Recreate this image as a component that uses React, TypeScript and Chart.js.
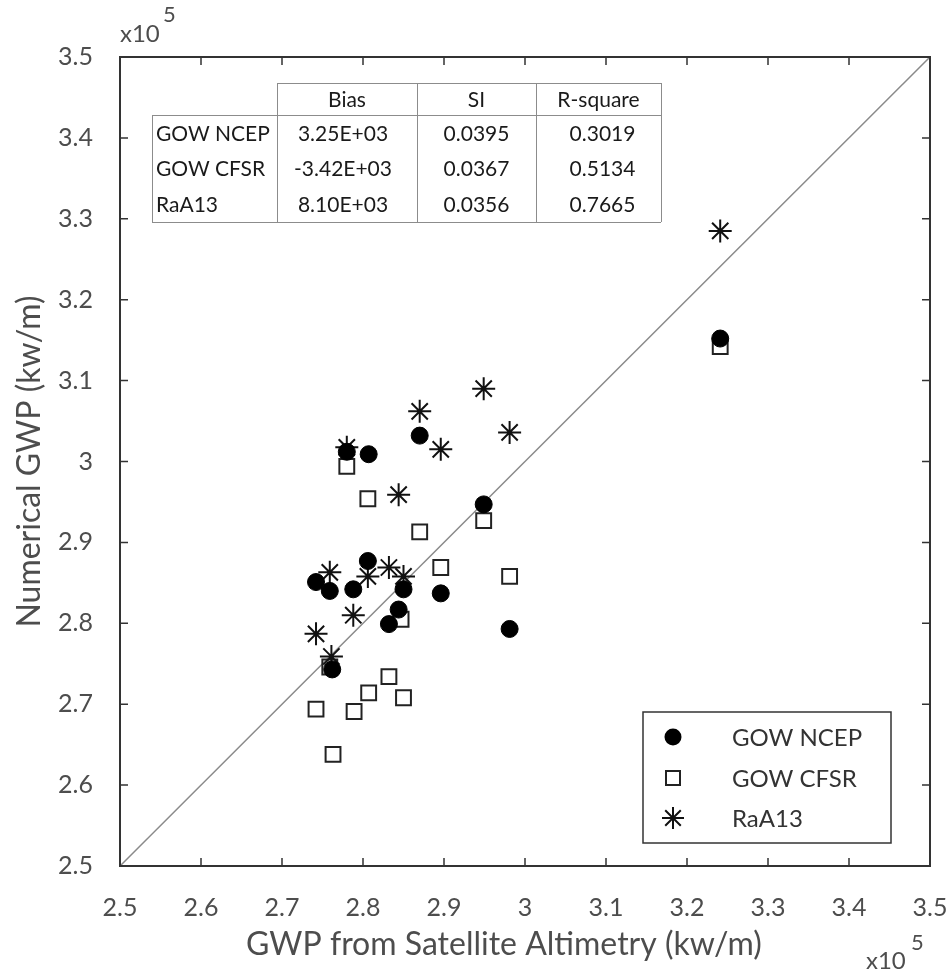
import React, { useEffect, useRef } from 'react';
import { Chart, registerables } from 'chart.js';

Chart.register(...registerables);

// GWP values in units of 10^5 kw/m
const ncepX = [2.742, 2.759, 2.762, 2.780, 2.788, 2.807, 2.806, 2.832, 2.844, 2.850, 2.870, 2.896, 2.949, 2.981, 3.241];
const ncepY = [2.851, 2.840, 2.743, 3.012, 2.842, 3.009, 2.877, 2.799, 2.817, 2.842, 3.032, 2.837, 2.947, 2.793, 3.152];
const cfsrX = [2.742, 2.759, 2.763, 2.780, 2.789, 2.806, 2.807, 2.832, 2.847, 2.850, 2.870, 2.896, 2.949, 2.981, 3.241];
const cfsrY = [2.694, 2.746, 2.638, 2.994, 2.691, 2.954, 2.714, 2.734, 2.805, 2.708, 2.913, 2.869, 2.927, 2.858, 3.142];
const raaX = [2.742, 2.759, 2.761, 2.780, 2.788, 2.806, 2.832, 2.844, 2.850, 2.870, 2.896, 2.949, 2.981, 3.241];
const raaY = [2.787, 2.863, 2.759, 3.0175, 2.810, 2.858, 2.869, 2.959, 2.858, 3.062, 3.015, 3.090, 3.036, 3.285];
const refLine = [2.5, 3.5];

const seriesNames = ['GOW NCEP', 'GOW CFSR', 'RaA13'];
const tableHeaders = ['Bias', 'SI', 'R-square'];
const biasVals = ['3.25E+03', '-3.42E+03', '8.10E+03'];
const siVals = ['0.0395', '0.0367', '0.0356'];
const r2Vals = ['0.3019', '0.5134', '0.7665'];
const xTitle = 'GWP from Satellite Altimetry (kw/m)';
const yTitle = 'Numerical GWP (kw/m)';

const FONT = 'Lato, "Open Sans", sans-serif';
const AXIS_COLOR = '#4d4d4d';

const toPts = (xs: number[], ys: number[]) => xs.map((x, i) => ({ x, y: ys[i] }));

function drawStar(ctx: CanvasRenderingContext2D, x: number, y: number, r: number) {
  ctx.beginPath();
  ctx.moveTo(x - r, y); ctx.lineTo(x + r, y);
  ctx.moveTo(x, y - r); ctx.lineTo(x, y + r);
  const d = r * Math.SQRT1_2;
  ctx.moveTo(x - d, y - d); ctx.lineTo(x + d, y + d);
  ctx.moveTo(x - d, y + d); ctx.lineTo(x + d, y - d);
  ctx.stroke();
}

const decorPlugin = {
  id: 'decor',
  afterDatasetsDraw(chart: any) {
    const { ctx, chartArea: a, scales } = chart;
    const xs = scales.x;
    const ys = scales.y;
    ctx.save();

    // inward tick marks on all four sides
    ctx.strokeStyle = '#333';
    ctx.lineWidth = 1.5;
    ctx.beginPath();
    xs.ticks.forEach((t: any) => {
      const px = xs.getPixelForValue(t.value);
      ctx.moveTo(px, a.bottom); ctx.lineTo(px, a.bottom - 8);
      ctx.moveTo(px, a.top); ctx.lineTo(px, a.top + 8);
    });
    ys.ticks.forEach((t: any) => {
      const py = ys.getPixelForValue(t.value);
      ctx.moveTo(a.left, py); ctx.lineTo(a.left + 8, py);
      ctx.moveTo(a.right, py); ctx.lineTo(a.right - 8, py);
    });
    ctx.stroke();

    // frame
    ctx.lineWidth = 2;
    ctx.strokeRect(a.left, a.top, a.right - a.left, a.bottom - a.top);

    // statistics table
    const cols = [152, 277, 417, 536, 661];
    const hTop = 83, hBot = 115, bBot = 222;
    const rowH = (bBot - hBot) / 3;
    ctx.fillStyle = '#fff';
    ctx.fillRect(cols[1], hTop, cols[4] - cols[1], hBot - hTop);
    ctx.fillRect(cols[0], hBot, cols[4] - cols[0], bBot - hBot);
    ctx.strokeStyle = '#8c8c8c';
    ctx.lineWidth = 1;
    ctx.beginPath();
    ctx.moveTo(cols[1], hTop + 0.5); ctx.lineTo(cols[4], hTop + 0.5);
    ctx.moveTo(cols[0], hBot + 0.5); ctx.lineTo(cols[4], hBot + 0.5);
    ctx.moveTo(cols[0], bBot + 0.5); ctx.lineTo(cols[4], bBot + 0.5);
    ctx.moveTo(cols[0] + 0.5, hBot); ctx.lineTo(cols[0] + 0.5, bBot);
    for (let i = 1; i < cols.length; i++) {
      ctx.moveTo(cols[i] + 0.5, hTop); ctx.lineTo(cols[i] + 0.5, bBot);
    }
    ctx.stroke();
    ctx.fillStyle = '#1a1a1a';
    ctx.font = `21px ${FONT}`;
    ctx.textBaseline = 'middle';
    ctx.textAlign = 'center';
    tableHeaders.forEach((h, i) => {
      ctx.fillText(h, (cols[i + 1] + cols[i + 2]) / 2, (hTop + hBot) / 2 + 1);
    });
    seriesNames.forEach((name, r) => {
      const cy = hBot + rowH * (r + 0.5) + 1;
      ctx.textAlign = 'left';
      ctx.fillText(name, cols[0] + 4, cy);
      ctx.textAlign = 'center';
      ctx.fillText(biasVals[r], (cols[1] + cols[2]) / 2 - 4, cy);
      ctx.fillText(siVals[r], (cols[2] + cols[3]) / 2, cy);
      ctx.fillText(r2Vals[r], (cols[3] + cols[4]) / 2 + 4, cy);
    });

    // legend box
    const lx = 643, ly = 712, lw = 248, lh = 131;
    ctx.fillStyle = '#fff';
    ctx.fillRect(lx, ly, lw, lh);
    ctx.strokeStyle = '#333';
    ctx.lineWidth = 1.5;
    ctx.strokeRect(lx, ly, lw, lh);
    const rowsY = [737, 778, 818];
    const mx = 673;
    ctx.fillStyle = '#000';
    ctx.beginPath();
    ctx.arc(mx, rowsY[0], 8.5, 0, Math.PI * 2);
    ctx.fill();
    ctx.strokeStyle = '#222';
    ctx.lineWidth = 2;
    ctx.strokeRect(mx - 7, rowsY[1] - 7, 14, 14);
    ctx.strokeStyle = '#111';
    ctx.lineWidth = 2;
    drawStar(ctx, mx, rowsY[2], 11);
    ctx.fillStyle = '#333';
    ctx.font = `24px ${FONT}`;
    ctx.textAlign = 'left';
    ctx.textBaseline = 'middle';
    seriesNames.forEach((n, i) => ctx.fillText(n, 732, rowsY[i] + 1));

    // x-axis title (slightly left of centre, as in the original)
    ctx.fillStyle = AXIS_COLOR;
    ctx.textAlign = 'center';
    ctx.textBaseline = 'alphabetic';
    ctx.font = `32px ${FONT}`;
    ctx.fillText(xTitle, 504, 955);

    // exponent labels
    ctx.textAlign = 'left';
    ctx.font = `24px ${FONT}`;
    ctx.fillText('x10', 120, 42);
    ctx.font = `22px ${FONT}`;
    ctx.fillText('5', 163, 22);
    ctx.font = `24px ${FONT}`;
    ctx.fillText('x10', 866, 969);
    ctx.font = `22px ${FONT}`;
    ctx.fillText('5', 911, 950);

    ctx.restore();
  },
};

const fmt = (v: number | string) => String(parseFloat(Number(v).toFixed(2)));

export default function App() {
  const ref = useRef<HTMLCanvasElement>(null);

  useEffect(() => {
    document.body.style.margin = '0';
    const canvas = ref.current;
    if (!canvas) return;
    const chart = new Chart(canvas, {
      type: 'scatter',
      data: {
        datasets: [
          {
            label: seriesNames[0],
            data: toPts(ncepX, ncepY),
            pointStyle: 'circle',
            pointRadius: 8.5,
            backgroundColor: '#000',
            borderColor: '#000',
            borderWidth: 1,
            order: 1,
          },
          {
            label: seriesNames[2],
            data: toPts(raaX, raaY),
            pointStyle: 'star',
            pointRadius: 11.5,
            backgroundColor: 'transparent',
            borderColor: '#111',
            borderWidth: 2,
            order: 2,
          },
          {
            label: seriesNames[1],
            data: toPts(cfsrX, cfsrY),
            pointStyle: 'rect',
            pointRadius: 10.5,
            backgroundColor: 'transparent',
            borderColor: '#222',
            borderWidth: 2,
            order: 3,
          },
          {
            type: 'line',
            label: '1:1',
            data: toPts(refLine, refLine),
            borderColor: '#8a8a8a',
            borderWidth: 1.5,
            pointRadius: 0,
            fill: false,
            order: 10,
          } as any,
        ],
      },
      options: {
        responsive: false,
        animation: false,
        devicePixelRatio: 1,
        events: [],
        layout: { padding: { left: 0, top: 57, right: 20, bottom: 0 } },
        plugins: {
          legend: { display: false },
          tooltip: { enabled: false },
          title: { display: false },
        },
        scales: {
          x: {
            type: 'linear',
            position: 'bottom',
            min: 2.5,
            max: 3.5,
            grid: { display: false },
            border: { display: false },
            ticks: {
              stepSize: 0.1,
              padding: 19,
              color: AXIS_COLOR,
              font: { family: FONT, size: 25 },
              maxRotation: 0,
              autoSkip: false,
              callback: (v: any) => fmt(v),
            },
            title: { display: false },
            afterFit: (s: any) => {
              s.height = 108;
              s.paddingLeft = 0;
              s.paddingRight = 0;
            },
          },
          y: {
            type: 'linear',
            position: 'left',
            min: 2.5,
            max: 3.5,
            grid: { display: false },
            border: { display: false },
            ticks: {
              stepSize: 0.1,
              padding: 19,
              color: AXIS_COLOR,
              font: { family: FONT, size: 25 },
              autoSkip: false,
              callback: (v: any) => fmt(v),
            },
            title: {
              display: true,
              text: yTitle,
              color: AXIS_COLOR,
              font: { family: FONT, size: 32 },
              padding: { top: 10, bottom: 0 },
            },
            afterFit: (s: any) => {
              s.width = 120;
              s.paddingTop = 0;
              s.paddingBottom = 0;
            },
          },
        },
      },
      plugins: [decorPlugin],
    });
    return () => chart.destroy();
  }, []);

  return (
    <div style={{ width: 950, height: 974 }}>
      <canvas ref={ref} width={950} height={974} style={{ display: 'block' }} />
    </div>
  );
}
